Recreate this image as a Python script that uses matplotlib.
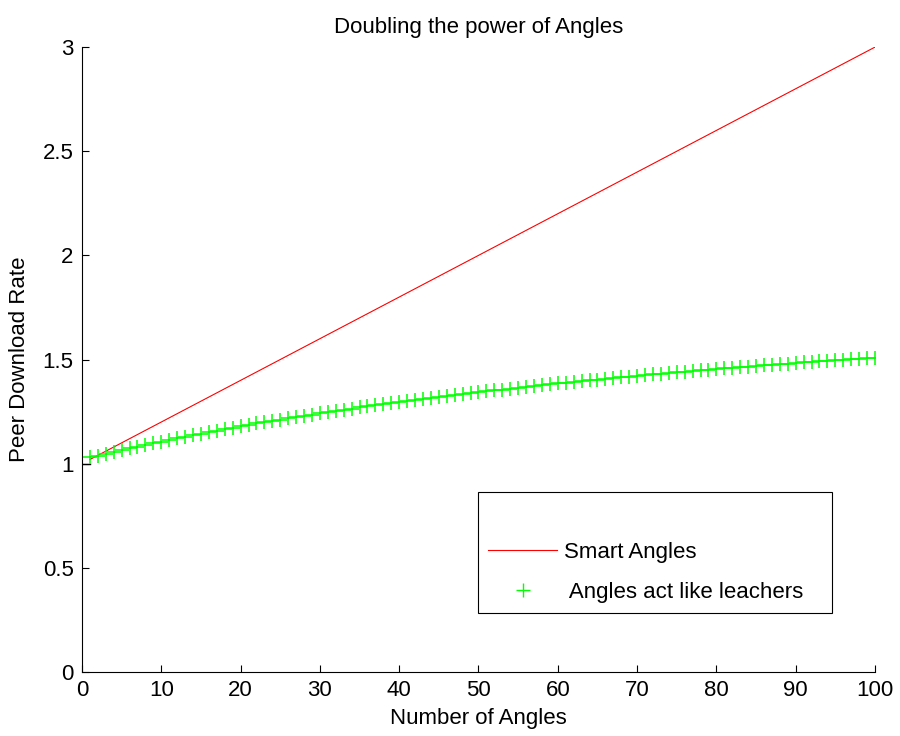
import matplotlib
matplotlib.use('Agg')
import matplotlib.pyplot as plt
from matplotlib.lines import Line2D

plt.rcParams['font.family'] = ['Liberation Sans', 'DejaVu Sans']

# data
angles = list(range(1, 101))
leachers = [1.030, 1.039, 1.048, 1.056, 1.065, 1.073, 1.081, 1.090, 1.098, 1.106,
            1.114, 1.121, 1.129, 1.137, 1.144, 1.152, 1.159, 1.166, 1.173, 1.180,
            1.186, 1.193, 1.200, 1.206, 1.212, 1.218, 1.225, 1.231, 1.236, 1.242,
            1.248, 1.254, 1.259, 1.264, 1.270, 1.275, 1.280, 1.286, 1.291, 1.296,
            1.301, 1.306, 1.310, 1.315, 1.320, 1.325, 1.329, 1.334, 1.338, 1.343,
            1.347, 1.352, 1.356, 1.360, 1.364, 1.369, 1.373, 1.377, 1.381, 1.385,
            1.389, 1.393, 1.396, 1.400, 1.404, 1.408, 1.411, 1.415, 1.418, 1.422,
            1.425, 1.429, 1.432, 1.435, 1.438, 1.442, 1.445, 1.448, 1.451, 1.454,
            1.457, 1.460, 1.463, 1.466, 1.469, 1.472, 1.475, 1.477, 1.480, 1.483,
            1.486, 1.488, 1.491, 1.493, 1.496, 1.499, 1.501, 1.504, 1.506, 1.509]
smart_x = [1, 100]
smart_y = [1.02, 3.0]
base_x = [0, 1]
base_y = [1.0, 1.0]

xticks = list(range(0, 101, 10))
yticks = [0, 0.5, 1, 1.5, 2, 2.5, 3]

fig = plt.figure(figsize=(9, 7.36), dpi=100)
ax = fig.add_axes([0.0911, 0.087, 0.8811, 0.849])

ax.plot(base_x, base_y, color='black', linewidth=1.0)
ax.plot(smart_x, smart_y, color='red', linewidth=0.8)
ax.plot(angles, leachers, linestyle='none', marker='+', color='#00ff00',
        markersize=10, markeredgewidth=1.1)

ax.set_xlim(0, 100)
ax.set_ylim(0, 3)
ax.set_xticks(xticks)
ax.set_yticks(yticks)
ax.set_yticklabels(['0', '0.5', '1', '1.5', '2', '2.5', '3'])
ax.tick_params(direction='in', length=5, width=0.8, labelsize=16, pad=6)
ax.spines['top'].set_visible(False)
ax.spines['right'].set_visible(False)
for s in ['left', 'bottom']:
    ax.spines[s].set_linewidth(0.8)
    ax.spines[s].set_color('black')

ax.set_title('Doubling the power of Angles', fontsize=16, pad=10)
ax.set_xlabel('Number of Angles', fontsize=16, labelpad=5)
ax.set_ylabel('Peer Download Rate', fontsize=16, labelpad=9)

handles = [Line2D([], [], linestyle='none'),
           Line2D([], [], color='red', linewidth=0.8),
           Line2D([], [], linestyle='none', marker='+', color='#00ff00',
                  markersize=10, markeredgewidth=1.0)]
labels = ['', 'Smart Angles', ' Angles act like leachers   ']
leg = ax.legend(handles, labels, loc='lower left', bbox_to_anchor=(0.499, 0.094),
                borderaxespad=0, fontsize=16, handlelength=3.1, handletextpad=0.3,
                labelspacing=0.83, borderpad=0.48, fancybox=False, framealpha=1,
                edgecolor='black')
leg.get_frame().set_linewidth(0.8)

fig.savefig('out.png', dpi=100)
